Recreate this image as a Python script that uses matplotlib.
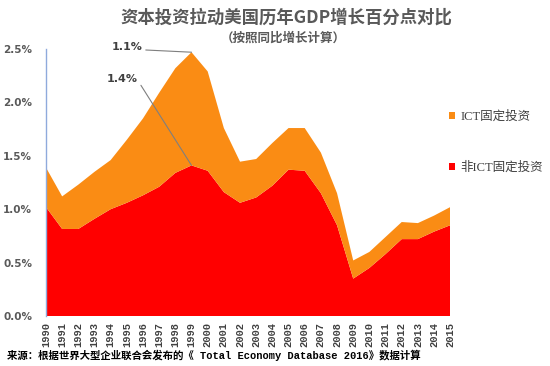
import matplotlib
matplotlib.use("Agg")
import matplotlib.pyplot as plt
import matplotlib.ticker as mticker
from matplotlib.patches import Patch

plt.rcParams["font.family"] = ["Noto Sans CJK SC", "DejaVu Sans"]

# ─── Data (percentage points of GDP growth) ───────────────────────
years = list(range(1990, 2016))
non_ict = [1.02, 0.815, 0.815, 0.91, 1.00, 1.06, 1.13, 1.21, 1.34, 1.41,
           1.36, 1.16, 1.06, 1.11, 1.22, 1.37, 1.36, 1.15, 0.85, 0.35,
           0.45, 0.58, 0.72, 0.72, 0.79, 0.85]
ict = [0.37, 0.305, 0.415, 0.44, 0.46, 0.59, 0.72, 0.88, 0.98, 1.06,
       0.93, 0.60, 0.385, 0.36, 0.40, 0.39, 0.40, 0.38, 0.30, 0.17,
       0.15, 0.16, 0.16, 0.15, 0.15, 0.17]
series_names = ["非ICT固定投资", "ICT固定投资"]
y_ticks = [0.0, 0.5, 1.0, 1.5, 2.0, 2.5]

RED = "#FF0000"
ORANGE = "#FA8C14"
GRAY = "#595959"

fig = plt.figure(figsize=(5.5, 3.66), dpi=100)
ax = fig.add_axes([0.0836, 0.1366, 0.735, 0.7295])

ax.stackplot(years, non_ict, ict, colors=[RED, ORANGE], linewidth=0)

ax.set_xlim(years[0], years[-1])
ax.set_ylim(0, 2.5)
ax.set_yticks(y_ticks)
ax.yaxis.set_major_formatter(mticker.FuncFormatter(lambda v, p: f"{v:.1f}%"))
ax.set_xticks(years)
ax.set_xticklabels([str(y) for y in years], rotation=90,
                   family=["Liberation Mono", "DejaVu Sans Mono"],
                   fontweight="bold", fontsize=7.5, color="#404040")
for lbl in ax.get_yticklabels():
    lbl.set_fontsize(7.5)
    lbl.set_fontweight("bold")
    lbl.set_color(GRAY)
    lbl.set_family(["DejaVu Sans"])
ax.tick_params(axis="both", length=0)
ax.tick_params(axis="x", pad=4)
ax.tick_params(axis="y", pad=10)

for name in ["top", "right", "bottom"]:
    ax.spines[name].set_visible(False)
ax.spines["left"].set_color("#8FAADC")
ax.spines["left"].set_linewidth(1.0)

# Data labels for 1999
peak = years.index(1999)
ax.annotate(f"{ict[peak]:.1f}%", xy=(1999, non_ict[peak] + ict[peak]),
            xytext=(1996.0, 2.52), ha="right", va="center",
            fontsize=8, fontweight="bold", color="#404040",
            family=["DejaVu Sans"],
            arrowprops=dict(arrowstyle="-", color="#7F7F7F", lw=0.8,
                            shrinkA=0, shrinkB=0, relpos=(1, 0.2)))
ax.annotate(f"{non_ict[peak]:.1f}%", xy=(1999, non_ict[peak]),
            xytext=(1995.7, 2.22), ha="right", va="center",
            fontsize=8, fontweight="bold", color="#404040",
            family=["DejaVu Sans"],
            arrowprops=dict(arrowstyle="-", color="#7F7F7F", lw=0.8,
                            shrinkA=0, shrinkB=0, relpos=(1, 0.3)))

# Legend (ICT on top)
handles = [Patch(facecolor=ORANGE, edgecolor="none"),
           Patch(facecolor=RED, edgecolor="none")]
leg = fig.legend(handles, [series_names[1], series_names[0]],
                 loc="upper left", bbox_to_anchor=(0.795, 0.728),
                 frameon=False, handlelength=0.55, handleheight=0.55,
                 handletextpad=0.4, labelspacing=3.1,
                 prop={"family": ["Liberation Serif", "Noto Sans CJK SC"],
                       "size": 9})
for t in leg.get_texts():
    t.set_color("#404040")

# Titles
fig.text(0.52, 0.953, "资本投资拉动美国历年GDP增长百分点对比",
         ha="center", va="center", fontsize=12.5, fontweight="bold",
         color=GRAY)
fig.text(0.515, 0.896, "（按照同比增长计算）", ha="center", va="center",
         fontsize=9, fontweight="bold", color=GRAY)

# Source note
fig.text(0.012, 0.03,
         "来源：根据世界大型企业联合会发布的《 Total Economy Database 2016》数据计算",
         ha="left", va="center", fontsize=7.5, fontweight="bold",
         color="black", family=["Liberation Mono", "Noto Sans CJK SC"])

fig.savefig("out.png", dpi=100, facecolor="white")
